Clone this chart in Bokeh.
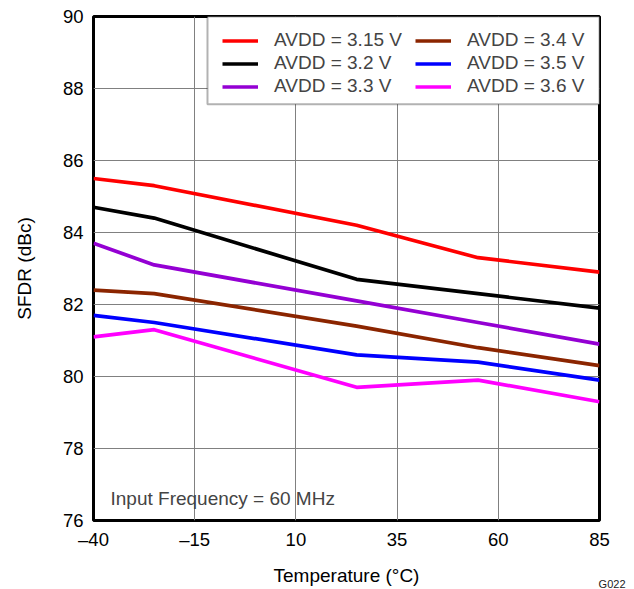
from bokeh.plotting import figure
from bokeh.models import Legend, LegendItem, Label, FixedTicker, Range1d, BoxAnnotation
from bokeh.embed import file_html
from bokeh.resources import INLINE

temps = [-40, -25, 25, 55, 85]
series_names = ["AVDD = 3.15 V", "AVDD = 3.2 V", "AVDD = 3.3 V",
                "AVDD = 3.4 V", "AVDD = 3.5 V", "AVDD = 3.6 V"]
avdd_315 = [85.5, 85.3, 84.2, 83.3, 82.9]
avdd_32 = [84.7, 84.4, 82.7, 82.3, 81.9]
avdd_33 = [83.7, 83.1, 82.1, 81.5, 80.9]
avdd_34 = [82.4, 82.3, 81.4, 80.8, 80.3]
avdd_35 = [81.7, 81.5, 80.6, 80.4, 79.9]
avdd_36 = [81.1, 81.3, 79.7, 79.9, 79.3]
colors = ["#ff0000", "#000000", "#9400d3", "#8b2500", "#0000ff", "#ff00ff"]
x_ticks = [-40, -15, 10, 35, 60, 85]
y_ticks = [76, 78, 80, 82, 84, 86, 88, 90]

FONT = "Liberation Sans"

p = figure(width=632, height=588, output_backend="svg", toolbar_location=None,
           x_range=Range1d(-40, 85), y_range=Range1d(76, 90),
           min_border_left=93, min_border_right=33, min_border_top=16,
           min_border_bottom=67)
p.outline_line_color = "black"
p.outline_line_width = 3

for ax in (p.xaxis[0], p.yaxis[0]):
    ax.axis_line_color = None
    ax.major_tick_line_color = None
    ax.minor_tick_line_color = None
    ax.major_tick_out = 0
    ax.major_tick_in = 0
    ax.major_label_text_font = FONT
    ax.major_label_text_font_size = "18.5px"
    ax.major_label_text_color = "black"
    ax.axis_label_text_font = FONT
    ax.axis_label_text_font_size = "19px"
    ax.axis_label_text_font_style = "normal"
    ax.axis_label_text_color = "black"

p.xaxis.ticker = FixedTicker(ticks=x_ticks)
p.yaxis.ticker = FixedTicker(ticks=y_ticks)
p.xaxis.major_label_overrides = {t: (str(t).replace("-", "\u2013")) for t in x_ticks}
p.xaxis.axis_label = "Temperature (\u00b0C)"
p.yaxis.axis_label = "SFDR (dBc)"
p.xaxis.axis_label_standoff = 12
p.yaxis.axis_label_standoff = 25
p.xaxis.major_label_standoff = 8
p.yaxis.major_label_standoff = 10

p.xgrid.grid_line_color = "#808080"
p.ygrid.grid_line_color = "#808080"
p.xgrid.grid_line_width = 1
p.ygrid.grid_line_width = 1

data = [avdd_315, avdd_32, avdd_33, avdd_34, avdd_35, avdd_36]
renderers = []
for vals, c in zip(data, colors):
    r = p.line(temps, vals, line_color=c, line_width=3.7)
    renderers.append(r)

# legend frame box
p.add_layout(BoxAnnotation(left=-11.84, right=85, top=90, bottom=87.56,
                           fill_color="white", fill_alpha=1.0,
                           line_color="black", line_width=2, level="annotation"))

items = [LegendItem(label=n, renderers=[r]) for n, r in zip(series_names, renderers)]
common = dict(label_text_font=FONT, label_text_font_size="19px",
              glyph_width=36, glyph_height=21, label_height=21,
              spacing=1, padding=0, margin=0, label_standoff=16,
              border_line_color=None, background_fill_alpha=0.0)
leg1 = Legend(items=items[:3], location=(129, 423), **common)
leg2 = Legend(items=items[3:], location=(322, 423), **common)
p.add_layout(leg1, "center")
p.add_layout(leg2, "center")

p.add_layout(Label(x=-35.8, y=76.61, text="Input Frequency = 60 MHz",
                   text_font=FONT, text_font_size="19px",
                   text_baseline="middle"))
# figure id, placed in the right side panel so it does not alter the layout
p.add_layout(Label(x=26, y=-63, x_units="screen", y_units="screen",
                   text="G022", text_font=FONT, text_font_size="11px",
                   text_color="#222222",
                   text_align="right", text_baseline="middle"), "right")

open("out.html", "w").write(file_html(p, INLINE))
